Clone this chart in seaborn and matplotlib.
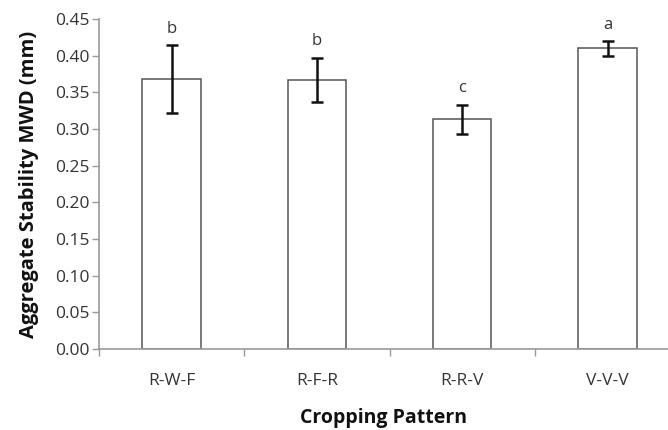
import matplotlib
matplotlib.use("Agg")
import matplotlib.pyplot as plt
import seaborn as sns
import pandas as pd
import numpy as np

categories = ["R-W-F", "R-F-R", "R-R-V", "V-V-V"]
means = [0.368, 0.367, 0.313, 0.410]
errors = [0.046, 0.030, 0.020, 0.010]
letters = ["b", "b", "c", "a"]
yticks = [0.00, 0.05, 0.10, 0.15, 0.20, 0.25, 0.30, 0.35, 0.40, 0.45]

sns.set_style("white")
plt.rcParams['font.family'] = ['Open Sans', 'DejaVu Sans']

df = pd.DataFrame({"pattern": categories, "mwd": means})

fig = plt.figure(figsize=(6.68, 4.30), dpi=100)
ax = fig.add_axes([0.148, 0.188, 0.852, 0.768])

sns.barplot(data=df, x="pattern", y="mwd", ax=ax, color="white",
            edgecolor="#555555", linewidth=1.1, width=0.4, errorbar=None)
for p in ax.patches:
    p.set_facecolor("white")

xs = np.arange(len(categories))
ax.errorbar(xs, means, yerr=errors, fmt="none", ecolor="#111111",
            elinewidth=1.8, capsize=4, capthick=1.8, zorder=5)

for x, m, e, l in zip(xs, means, errors, letters):
    ax.annotate(l, (x, m + e), xytext=(0, 6), textcoords="offset points",
                ha="center", va="bottom", fontsize=12, color="#333333")

ax.set_ylim(0, 0.45)
ax.set_xlim(-0.5, 3.416)
ax.set_yticks(yticks)
ax.set_yticklabels([f"{v:.2f}" for v in yticks], fontsize=12.5, color="#333333")
ax.set_xticks(xs)
ax.set_xticklabels(categories, fontsize=12.5, color="#333333")
ax.set_xticks([-0.5, 0.5, 1.5, 2.5], minor=True)
ax.tick_params(axis="x", which="major", length=0, pad=17)
ax.tick_params(axis="x", which="minor", length=5, width=1, color="#999999", direction="out", bottom=True)
ax.tick_params(axis="y", length=5, width=1, color="#999999", direction="out", left=True, pad=2)

for s in ["top", "right"]:
    ax.spines[s].set_visible(False)
for s in ["left", "bottom"]:
    ax.spines[s].set_color("#999999")
    ax.spines[s].set_linewidth(1.2)

ax.set_xlabel("Cropping Pattern", fontsize=14, fontweight="bold", color="#111111", labelpad=14)
ax.set_ylabel("Aggregate Stability MWD (mm)", fontsize=14.5, fontweight="bold", color="#111111", labelpad=11)

fig.savefig("out.png", dpi=100)
